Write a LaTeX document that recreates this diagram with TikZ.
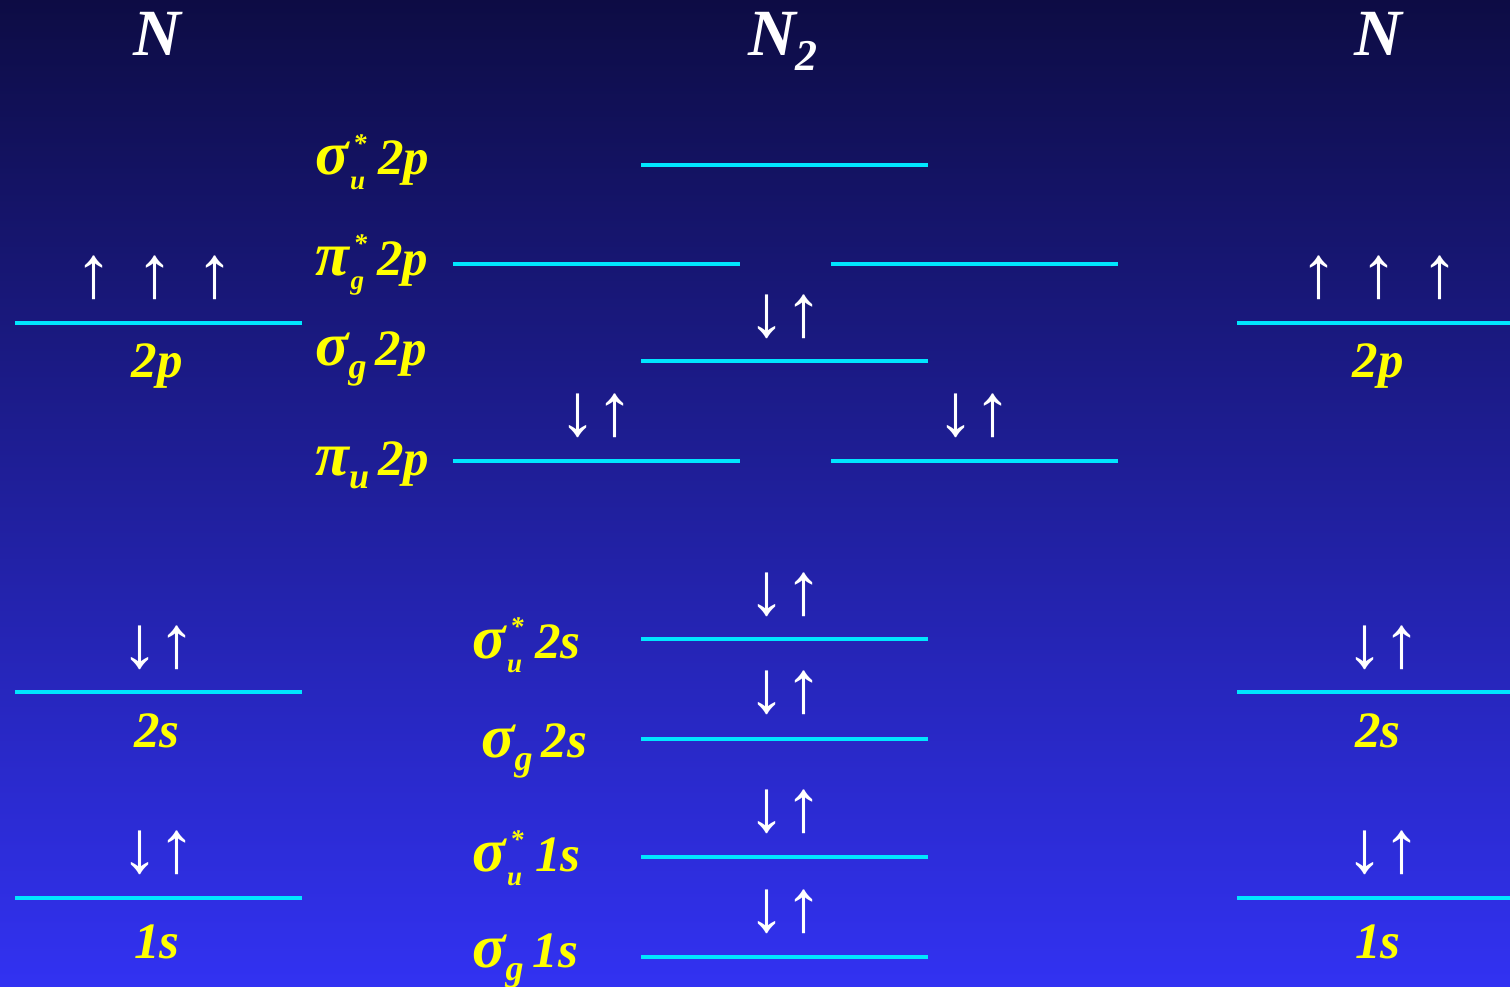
\documentclass[tikz,border=0pt]{standalone}
\usepackage{fontspec}
\setmainfont{Liberation Serif}
\definecolor{bgtop}{RGB}{13,12,68}
\definecolor{bgbot}{RGB}{50,50,242}
\definecolor{lvlcyan}{RGB}{0,230,255}
\definecolor{labyel}{RGB}{255,255,0}
\newcommand{\gk}[1]{{\fontsize{62}{62}\selectfont #1}}
% orbital label with stacked star and subscript
\newcommand{\mostar}[3]{\gk{#1}\hspace{0.03em}\makebox[0pt][l]{\hspace{0.06em}\raisebox{0.44em}{\fontsize{27}{27}\selectfont *}}\raisebox{-0.28em}{\fontsize{27}{27}\selectfont #2}\hspace{0.26em}#3}
% orbital label with subscript only
\newcommand{\mosub}[3]{\gk{#1}\raisebox{-0.27em}{\fontsize{36}{36}\selectfont #2}\hspace{0.18em}#3}
\begin{document}
\begin{tikzpicture}[x=1pt,y=-1pt,
  lvl/.style={fill=lvlcyan, inner sep=0, minimum height=4pt, minimum width=287pt},
  lab/.style={text=labyel, font=\bfseries\itshape\fontsize{51}{51}\selectfont, inner sep=0, anchor=base west},
  orb/.style={text=labyel, font=\bfseries\itshape\fontsize{51}{51}\selectfont, inner sep=0, anchor=base},
  atom/.style={text=white, font=\bfseries\itshape\fontsize{66}{66}\selectfont, inner sep=0, anchor=base},
  spin/.style={text=white, font=\bfseries\fontsize{74}{74}\selectfont, inner sep=0, anchor=center}]
\useasboundingbox (0,0) rectangle (1510,987);
\shade[top color=bgtop, bottom color=bgbot] (0,0) rectangle (1510,987);
% titles
\node[atom] (NL) at (157,56) {N};
\node[atom] (N2) at (783,56) {N\raisebox{-0.22em}{\fontsize{44}{44}\selectfont 2}};
\node[atom] (NR) at (1378,56) {N};
% atomic levels left
\node[lvl] (L2p) at (158,323) {};
\node[lvl] (L2s) at (158,692) {};
\node[lvl] (L1s) at (158,898) {};
% atomic levels right
\node[lvl] (R2p) at (1380,323) {};
\node[lvl] (R2s) at (1380,692) {};
\node[lvl] (R1s) at (1380,898) {};
% molecular levels
\node[lvl] (su2p) at (784,165) {};
\node[lvl] (pga) at (596,264) {};
\node[lvl] (pgb) at (974,264) {};
\node[lvl] (sg2p) at (784,361) {};
\node[lvl] (pua) at (596,461) {};
\node[lvl] (pub) at (974,461) {};
\node[lvl] (su2s) at (784,639) {};
\node[lvl] (sg2s) at (784,739) {};
\node[lvl] (su1s) at (784,857) {};
\node[lvl] (sg1s) at (784,957) {};
% atomic labels
\node[orb] (tL2p) at (157,377) {2p};
\node[orb] (tL2s) at (157,747) {2s};
\node[orb] (tL1s) at (157,958) {1s};
\node[orb] (tR2p) at (1378,377) {2p};
\node[orb] (tR2s) at (1378,747) {2s};
\node[orb] (tR1s) at (1378,958) {1s};
% molecular labels
\node[lab] (tsu2p) at (315,175) {\mostar{σ}{u}{2p}};
\node[lab] (tpg) at (315,275) {\mostar{π}{g}{2p}};
\node[lab] (tsg2p) at (315,365) {\mosub{σ}{g}{2p}};
\node[lab] (tpu) at (315,475) {\mosub{π}{u}{2p}};
\node[lab] (tsu2s) at (472,658) {\mostar{σ}{u}{2s}};
\node[lab] (tsg2s) at (481,757) {\mosub{σ}{g}{2s}};
\node[lab] (tsu1s) at (472,871) {\mostar{σ}{u}{1s}};
\node[lab] (tsg1s) at (472,967) {\mosub{σ}{g}{1s}};
% spins
\node[spin] (eL1) at (94,278) {↑};
\node[spin] (eL2) at (155,278) {↑};
\node[spin] (eL3) at (215,278) {↑};
\node[spin] (eR1) at (1319,278) {↑};
\node[spin] (eR2) at (1379,278) {↑};
\node[spin] (eR3) at (1440,278) {↑};
\node[spin] (eL2s) at (158,648) {↓↑};
\node[spin] (eL1s) at (158,853) {↓↑};
\node[spin] (eR2s) at (1383,648) {↓↑};
\node[spin] (eR1s) at (1383,853) {↓↑};
\node[spin] (esg2p) at (785,317) {↓↑};
\node[spin] (epua) at (596,416) {↓↑};
\node[spin] (epub) at (974,416) {↓↑};
\node[spin] (esu2s) at (785,595) {↓↑};
\node[spin] (esg2s) at (785,693) {↓↑};
\node[spin] (esu1s) at (785,812) {↓↑};
\node[spin] (esg1s) at (785,912) {↓↑};
\end{tikzpicture}
\end{document}
